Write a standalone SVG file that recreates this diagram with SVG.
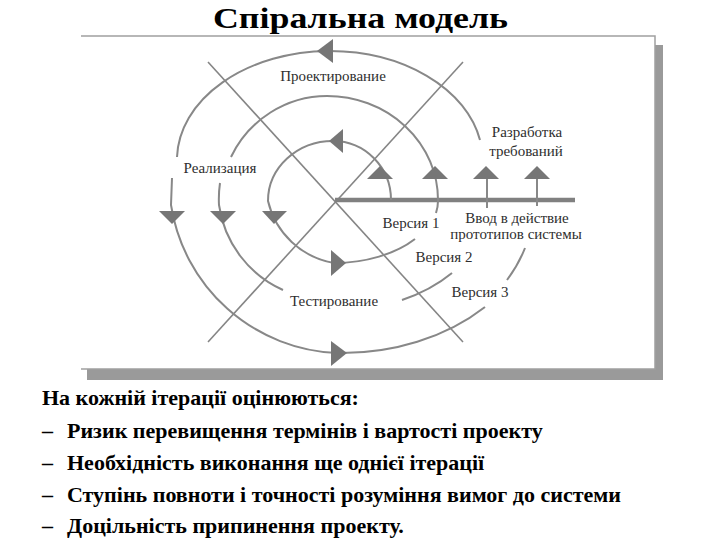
<svg xmlns="http://www.w3.org/2000/svg" width="720" height="540" viewBox="0 0 720 540">
<style>
.arc{fill:none;stroke:#888;stroke-width:2}
.diag{fill:none;stroke:#858585;stroke-width:1.6}
.axis{fill:none;stroke:#808080;stroke-width:4.5}
.ah{fill:#767676}
.lbl{font-family:'Liberation Serif','Times New Roman',serif;font-size:15px;fill:#2e2e2e;text-anchor:middle}
.body{font-family:'Liberation Serif','Times New Roman',serif;font-size:22px;font-weight:bold;fill:#000}
</style>
<rect width="720" height="540" fill="#fff"/>
<g id="frame">
<rect x="655" y="45" width="8" height="335" fill="#9a9a9a"/>
<rect x="87" y="369" width="576" height="11" fill="#9a9a9a"/>
<path d="M81,36 L655,36 L655,369 L81,369" fill="none" stroke="#a0a0a0" stroke-width="1.5"/>
</g>
<text id="title" x="360.5" y="28" font-family="Liberation Serif, Times New Roman, serif" font-size="30" font-weight="bold" text-anchor="middle" fill="#000" textLength="295" lengthAdjust="spacingAndGlyphs">Спіральна модель</text>
<g id="connectors">
<path class="diag" d="M208,62 L463,342"/>
<path class="diag" d="M463,62 L208,342"/>
<path class="axis" d="M335,200 L575,200"/>
<path class="arc" d="M391,200 A58,59 0 0 0 333,141 A65,60 0 0 0 268,201 A82,82 0 0 0 334,263 A104,63 0 0 0 415,239"/>
<path class="arc" d="M436,213 A104,63 0 0 0 438,200 A111,104 0 0 0 327,96 A107,109 0 0 0 231,157"/>
<path class="arc" d="M220,183 A108,109 0 0 0 219,205 A110,110 0 0 0 283,290"/>
<path class="arc" d="M402,300 A152,110 0 0 0 452,273"/>
<path class="arc" d="M487,208 L487,176"/>
<path class="arc" d="M480,140 A153,109 0 0 0 328,51 A153,109 0 0 0 177,157"/>
<path class="arc" d="M172,178 L171,205 A175,175 0 0 0 337,353 A200,153 0 0 0 485,307"/>
<path class="arc" d="M507,280 A200,153 0 0 0 525,248"/>
<path class="arc" d="M537,206 L537,176"/>
<g id="arrowheads">
<path class="ah" d="M380,166 L367,179 L393,179 Z"/>
<path class="ah" d="M435,166 L422,179 L448,179 Z"/>
<path class="ah" d="M486,166 L473,179 L499,179 Z"/>
<path class="ah" d="M537,166 L524,179 L550,179 Z"/>
<path class="ah" d="M159,211 L185,211 L172,224 Z"/>
<path class="ah" d="M210,211 L236,211 L223,224 Z"/>
<path class="ah" d="M262,211 L287,211 L274,224 Z"/>
<path class="ah" d="M329,141 L343,129 L343,153 Z"/>
<path class="ah" d="M317,51 L333,39 L333,63 Z"/>
<path class="ah" d="M346,263 L331,250 L331,276 Z"/>
<path class="ah" d="M347,353 L331,341 L331,366 Z"/>
</g>
</g>
<g id="labels">
<text class="lbl" x="333" y="81">Проектирование</text>
<text class="lbl" x="220" y="173">Реализация</text>
<text class="lbl" x="334" y="306">Тестирование</text>
<text class="lbl" x="527" y="137">Разработка</text>
<text class="lbl" x="526" y="156">требований</text>
<text class="lbl" x="411" y="228">Версия 1</text>
<text class="lbl" x="444" y="262">Версия 2</text>
<text class="lbl" x="480" y="297">Версия 3</text>
<text class="lbl" x="517" y="223">Ввод в действие</text>
<text class="lbl" x="516" y="239">прототипов системы</text>
</g>
<g id="notes">
<text class="body" x="42" y="405">На кожній ітерації оцінюються:</text>
<text class="body" x="42" y="438">–</text><text class="body" x="67" y="438">Ризик перевищення термінів і вартості проекту</text>
<text class="body" x="42" y="470">–</text><text class="body" x="67" y="470">Необхідність виконання ще однієї ітерації</text>
<text class="body" x="42" y="502">–</text><text class="body" x="67" y="502">Ступінь повноти і точності розуміння вимог до системи</text>
<text class="body" x="42" y="533">–</text><text class="body" x="67" y="533">Доцільність припинення проекту.</text>
</g>
</svg>
